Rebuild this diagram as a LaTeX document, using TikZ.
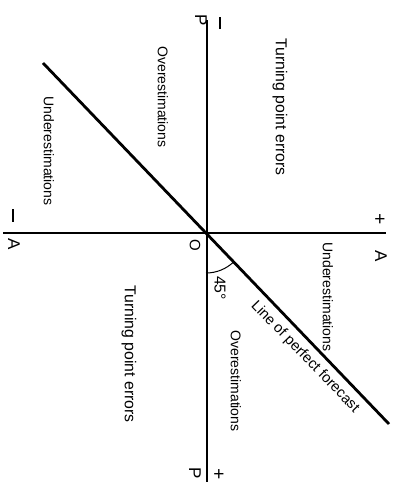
\documentclass[tikz,border=0pt]{standalone}
\usepackage{fontspec}
\setmainfont{Liberation Sans}
\usetikzlibrary{calc}
\begin{document}
\begin{tikzpicture}[x=1pt,y=-1pt,
  axis/.style={line width=1.5pt,black},
  diag/.style={line width=2.8pt,black},
  txt/.style={font=\fontsize{14}{16}\selectfont,inner sep=0pt},
  lbl/.style={txt,rotate=-90},
  big/.style={font=\fontsize{15.8}{18}\selectfont},
  axl/.style={font=\fontsize{17}{19}\selectfont,inner sep=0pt,rotate=-90},
  sgn/.style={font=\fontsize{19}{21}\selectfont,inner sep=0pt}]
\useasboundingbox (0,0) rectangle (398,496);
% axes
\coordinate (O) at (206,233);
\coordinate (ptop) at (207,20);
\coordinate (pbot) at (207,482);
\coordinate (aleft) at (3,233);
\coordinate (aright) at (386,233);
\coordinate (dstart) at (43,63);
\coordinate (dend) at (389,424);
\draw[axis] (ptop) -- (pbot);
\draw[axis] (aleft) -- (aright);
\draw[diag] (dstart) -- (dend);
% angle arc
\draw[line width=1pt] ($(O)+(0,40)$) arc[start angle=90,end angle=46,radius=40];
% axis labels
\node[axl] (Ptop) at (201,20) {P};
\node[sgn] (mtop) at (220,23) {\rule{1.6pt}{12pt}};
\node[axl] (Pbot) at (195,473) {P};
\node[sgn] (ptopl) at (219,475) {+};
\node[sgn] (mleft) at (13,215) {\rule{1.6pt}{13pt}};
\node[axl] (Aleft) at (14,244) {A};
\node[sgn] (pright) at (380,220) {+};
\node[axl] (Aright) at (381,256) {A};
\node[axl,font=\fontsize{15}{17}\selectfont] (Olbl) at (195,245) {O};
\node[lbl,big] (ang) at (220,288) {45°};
% region labels
\node[lbl,big] (tpe1) at (280,107) {Turning point errors};
\node[lbl] (ov1) at (163,97) {Overestimations};
\node[lbl] (un1) at (49,151) {Underestimations};
\node[lbl] (un2) at (328,297) {Underestimations};
\node[lbl] (ov2) at (236,381) {Overestimations};
\node[lbl,big] (tpe2) at (129,354) {Turning point errors};
\node[txt,rotate=-46,font=\fontsize{14.6}{16}\selectfont] (lpf) at (305,357) {Line of perfect forecast};
\end{tikzpicture}
\end{document}
